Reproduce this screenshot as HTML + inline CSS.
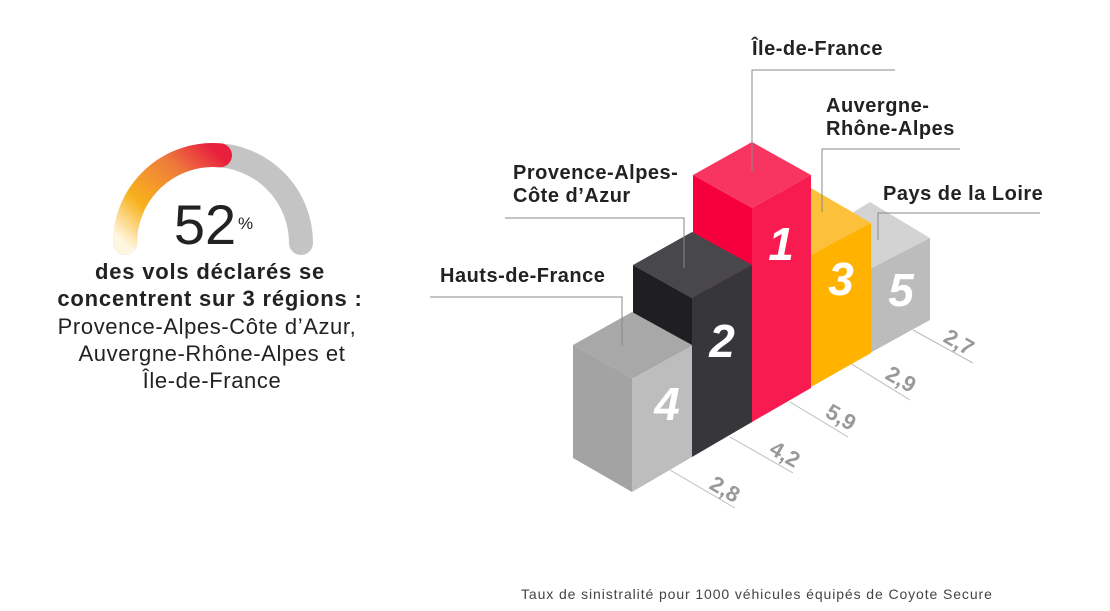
<!DOCTYPE html>
<html><head><meta charset="utf-8"><style>
html,body{margin:0;padding:0;background:#fff;}
svg{display:block;font-family:"Liberation Sans",sans-serif;}
</style></head><body>
<svg width="1110" height="611" viewBox="0 0 1110 611" xmlns="http://www.w3.org/2000/svg">
<defs>
<linearGradient id="g" x1="0" y1="1" x2="1" y2="0">
<stop offset="0" stop-color="#fff6e0"/>
<stop offset="0.3" stop-color="#f8b21c"/>
<stop offset="0.7" stop-color="#ee7a3c"/>
<stop offset="1" stop-color="#e8203e"/>
</linearGradient>
</defs>
<!-- gauge -->
<path d="M125 243 A88 88 0 0 1 301 243" fill="none" stroke="#c4c4c4" stroke-width="24" stroke-linecap="round"/>
<path d="M125 243 A88 88 0 0 1 220 155.3" fill="none" stroke="url(#g)" stroke-width="24" stroke-linecap="round"/>
<text x="205" y="244" font-size="56" text-anchor="middle" fill="#222">52</text>
<text x="238" y="229" font-size="17" fill="#222">%</text>
<g font-size="22" text-anchor="middle" fill="#222">
<text x="210" y="279" font-weight="bold" letter-spacing="0.8">des vols déclarés se</text>
<text x="210" y="306" font-weight="bold" letter-spacing="0.8">concentrent sur 3 régions :</text>
<text x="207" y="334" letter-spacing="0.6">Provence-Alpes-Côte d’Azur,</text>
<text x="212" y="361" letter-spacing="0.6">Auvergne-Rhône-Alpes et</text>
<text x="212" y="388" letter-spacing="0.6">Île-de-France</text>
</g>
<!-- ground lines -->
<g stroke="#bbb" stroke-width="1">
<line x1="670" y1="470" x2="735" y2="508"/>
<line x1="730" y1="437" x2="793" y2="473"/>
<line x1="790" y1="402" x2="848" y2="437"/>
<line x1="850" y1="363" x2="910" y2="400"/>
<line x1="913" y1="330" x2="973" y2="363"/>
</g>
<g font-size="22" font-weight="bold" fill="#999">
<text transform="translate(708,488) rotate(30)">2,8</text>
<text transform="translate(768,453) rotate(30)">4,2</text>
<text transform="translate(824,416) rotate(30)">5,9</text>
<text transform="translate(884,378) rotate(30)">2,9</text>
<text transform="translate(942,341) rotate(30)">2,7</text>
</g>
<!-- bar 5 -->
<polygon points="811,238 870,202 930,238 870,269" fill="#d3d3d3"/>
<polygon points="870,269 930,238 930,320 870,353" fill="#bcbcbc"/>
<!-- bar 3 -->
<polygon points="752,223 811,188 871,223 811,255" fill="#fdc03a"/>
<polygon points="752,223 811,255 811,387 752,420" fill="#f0a500"/>
<polygon points="811,255 871,223 871,353 811,387" fill="#ffb300"/>
<!-- bar 1 -->
<polygon points="693,175 752,142 811,175 752,208" fill="#f83560"/>
<polygon points="693,175 752,208 752,422 693,455" fill="#f5003c"/>
<polygon points="752,208 811,175 811,388 752,422" fill="#f81b4f"/>
<!-- bar 2 -->
<polygon points="633,265 692,232 752,265 692,298" fill="#48474c"/>
<polygon points="633,265 692,298 692,457 633,424" fill="#1f1e22"/>
<polygon points="692,298 752,265 752,422 692,457" fill="#37363b"/>
<!-- bar 4 -->
<polygon points="573,345 632,312 692,345 632,378" fill="#a8a8a8"/>
<polygon points="573,345 632,378 632,492 573,458" fill="#a3a3a3"/>
<polygon points="632,378 692,345 692,457 632,492" fill="#bdbdbd"/>
<!-- numbers -->
<g font-size="46" font-weight="bold" font-style="italic" fill="#fff" text-anchor="middle">
<text x="667" y="420">4</text>
<text x="722" y="357">2</text>
<text x="781" y="260">1</text>
<text x="841" y="295">3</text>
<text x="901" y="306">5</text>
</g>
<!-- callouts -->
<g stroke="#888" stroke-width="1" fill="none">
<polyline points="752,172 752,70 895,70"/>
<polyline points="822,212 822,149 960,149"/>
<polyline points="878,240 878,213 1040,213"/>
<polyline points="684,268 684,218 505,218"/>
<polyline points="622,345 622,297 430,297"/>
</g>
<g font-size="20" font-weight="bold" fill="#222" letter-spacing="0.5">
<text x="752" y="55">Île-de-France</text>
<text x="826" y="112">Auvergne-</text>
<text x="826" y="135">Rhône-Alpes</text>
<text x="883" y="200">Pays de la Loire</text>
<text x="513" y="179">Provence-Alpes-</text>
<text x="513" y="202">Côte d’Azur</text>
<text x="440" y="282">Hauts-de-France</text>
</g>
<text x="521" y="599" font-size="14" fill="#444" letter-spacing="0.9">Taux de sinistralité pour 1000 véhicules équipés de Coyote Secure</text>
</svg>
</body></html>
